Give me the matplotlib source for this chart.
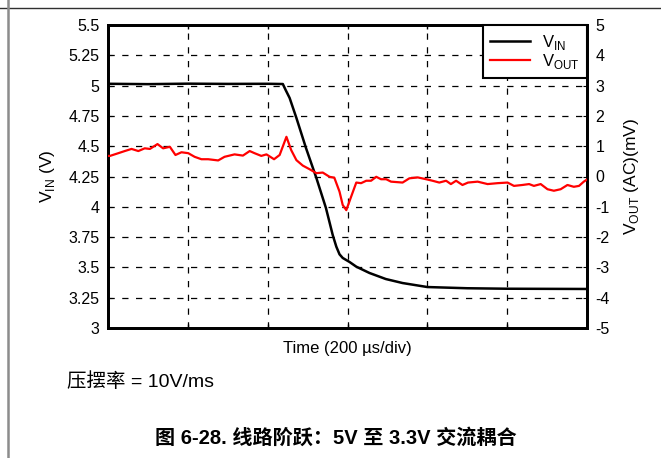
import matplotlib
matplotlib.use("Agg")
import matplotlib.pyplot as plt
from matplotlib.lines import Line2D

plt.rcParams["font.family"] = ["Liberation Sans", "Noto Sans CJK SC", "DejaVu Sans"]
plt.rcParams["axes.unicode_minus"] = False

# Input step (V) vs time (us)
vin_t = [0, 100, 200, 300, 400, 438, 445, 455, 472, 496, 522, 546, 563, 572, 580, 588, 605, 622, 655, 696,
         738, 800, 900, 1000, 1200]
vin_v = [5.015, 5.012, 5.016, 5.014, 5.015, 5.013, 4.964, 4.898, 4.733, 4.485, 4.238, 3.990, 3.767, 3.671,
         3.608, 3.578, 3.545, 3.506, 3.454, 3.404, 3.371, 3.338, 3.328, 3.324, 3.322]

# AC-coupled output (mV) vs time (us)
vout_t = [0, 5, 26, 42, 59, 76, 92, 105, 124, 138, 155, 169, 184, 201, 217, 234, 251, 276, 292, 317, 338,
          355, 367, 384, 397, 416, 430, 447, 459, 472, 488, 505, 522, 538, 555, 567, 580, 588, 597, 609,
          622, 634, 647, 659, 672, 684, 697, 709, 738, 755, 776, 797, 813, 830, 847, 859, 872, 888, 902,
          926, 951, 976, 1001, 1017, 1038, 1055, 1067, 1084, 1101, 1117, 1134, 1151, 1167, 1180, 1192, 1200]
vout_mv = [0.68, 0.68, 0.77, 0.84, 0.91, 0.84, 0.93, 0.91, 1.07, 0.93, 0.98, 0.71, 0.80, 0.77, 0.65, 0.57,
           0.57, 0.53, 0.65, 0.73, 0.69, 0.84, 0.77, 0.68, 0.73, 0.57, 0.71, 1.31, 0.87, 0.54, 0.36, 0.24,
           0.11, 0.13, -0.01, -0.04, -0.50, -0.94, -1.11, -0.67, -0.20, -0.22, -0.14, -0.14, -0.01, -0.09,
           -0.09, -0.17, -0.20, -0.06, -0.03, -0.09, -0.14, -0.20, -0.14, -0.25, -0.14, -0.28, -0.20, -0.17,
           -0.25, -0.22, -0.20, -0.31, -0.28, -0.25, -0.31, -0.25, -0.42, -0.47, -0.42, -0.28, -0.34, -0.31,
           -0.17, -0.10]

x_ticks = [0, 200, 400, 600, 800, 1000, 1200]
vin_ticks = [3, 3.25, 3.5, 3.75, 4, 4.25, 4.5, 4.75, 5, 5.25, 5.5]
vin_labels = ["3", "3.25", "3.5", "3.75", "4", "4.25", "4.5", "4.75", "5", "5.25", "5.5"]
vout_ticks = [-5, -4, -3, -2, -1, 0, 1, 2, 3, 4, 5]

fig = plt.figure(figsize=(6.61, 4.58), dpi=100)
W, H = 661, 458

# page border lines
fig.add_artist(Line2D([0, 1], [1 - 8 / H, 1 - 8 / H], color="#303030", lw=1.0))
fig.add_artist(Line2D([7.5 / W, 7.5 / W], [0, 1], color="#8c8c8c", lw=1.8))

ax = fig.add_axes([108 / W, (H - 328) / H, 479 / W, 303 / H])
ax2 = ax.twinx()

ax.plot(vin_t, vin_v, color="black", lw=1.8, zorder=3)
ax2.plot(vout_t, vout_mv, color="#ff0000", lw=1.6, zorder=3)

ax.set_xlim(0, 1200)
ax.set_ylim(3, 5.5)
ax2.set_ylim(-5, 5)
ax.set_xticks(x_ticks)
ax.set_xticklabels([])
ax.set_yticks(vin_ticks)
ax.set_yticklabels(vin_labels)
ax2.set_yticks(vout_ticks)

ax.grid(True, color="black", lw=0.9, linestyle=(0, (5, 6)))
ax.tick_params(axis="x", direction="in", length=3, top=True, width=1)
ax.tick_params(axis="y", direction="in", length=3, labelsize=11.5, pad=6)
ax2.tick_params(axis="y", direction="in", length=3, labelsize=11.5, pad=6)
for a in (ax, ax2):
    for s in a.spines.values():
        s.set_linewidth(2.0)

ax.set_xlabel("Time (200 µs/div)", fontsize=12, labelpad=6)
ax.set_ylabel("V$_{\\mathregular{IN}}$ (V)", fontsize=12.5, labelpad=8)
ax2.set_ylabel("V$_{\\mathregular{OUT}}$ (AC)(mV)", fontsize=12.5, labelpad=9)

handles = [Line2D([], [], color="black", lw=1.8), Line2D([], [], color="#ff0000", lw=1.6)]
leg = ax2.legend(handles, ["V$_{\\mathregular{IN}}$", "V$_{\\mathregular{OUT}}$"], loc="upper right",
                 fontsize=12, frameon=True, fancybox=False, framealpha=1, edgecolor="black",
                 borderaxespad=0, handlelength=2.4, handletextpad=0.7, labelspacing=0.0,
                 borderpad=0.45)
leg.get_frame().set_linewidth(1.5)

fig.text(67 / W, 1 - 382 / H, "压摆率 = 10V/ms", fontsize=14, va="center", ha="left",
         family=["Liberation Sans", "Noto Sans CJK SC"])
fig.text(336 / W, 1 - 438 / H, "图 6-28. 线路阶跃：5V 至 3.3V 交流耦合", fontsize=14.5, fontweight="bold",
         va="center", ha="center", family=["Liberation Sans", "Noto Sans CJK SC"])

fig.savefig("out.png", dpi=100)
